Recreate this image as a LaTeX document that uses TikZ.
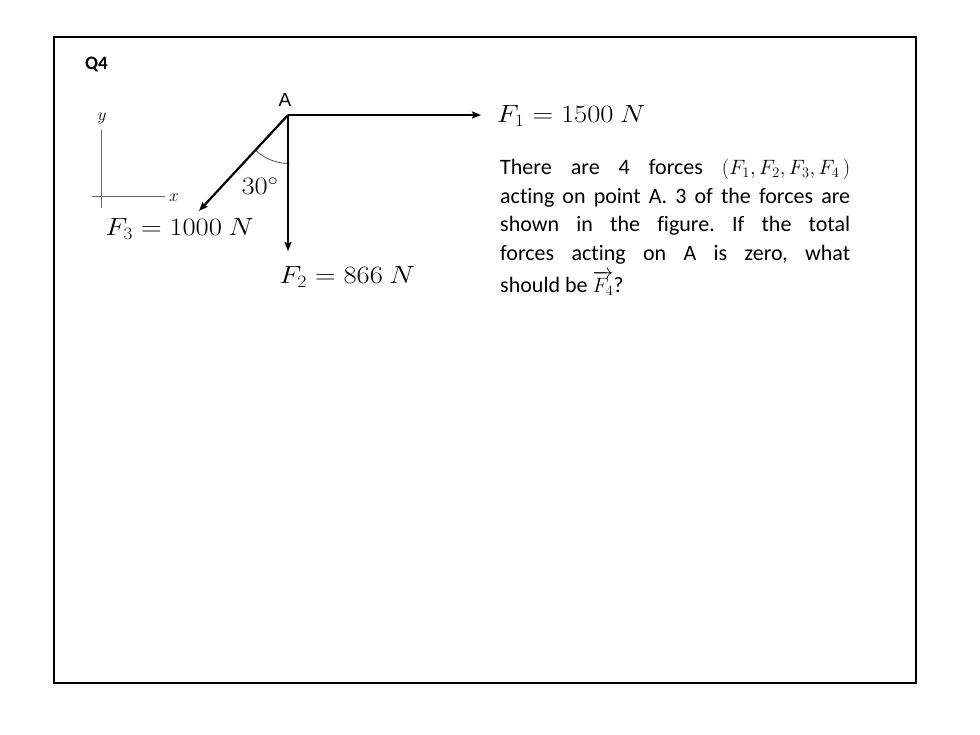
\documentclass[tikz,border=0pt]{standalone}
\usepackage{fontspec}
\usepackage{amsmath}
\usepackage{graphicx}
\setmainfont{Carlito}[Ligatures=NoCommon]
\newfontfamily\arialfont{Liberation Sans}
\usetikzlibrary{arrows.meta}
\newcommand{\mlab}[1]{\scalebox{1.15}[1.0]{$#1$}}
\frenchspacing
\begin{document}
\begin{tikzpicture}[x=1pt,y=1pt,
  force/.style={line width=2.2pt,-{Stealth[length=9pt,width=7pt,inset=1.5pt]}},
  axisline/.style={line width=0.8pt,draw=black!60},
  lab/.style={inner sep=0pt},
  biglab/.style={inner sep=0pt,font=\fontsize{24}{28}\selectfont}]
\useasboundingbox (0,0) rectangle (980,735);
\fill[white] (0,0) rectangle (980,735);
\draw[line width=2pt] (54,698) rectangle (916,52);
\node[lab,font=\bfseries\fontsize{19}{22}\selectfont] (q) at (96.5,671) {Q4};
% axes
\coordinate (yt) at (101,605);
\coordinate (yb) at (101,527);
\coordinate (xl) at (92,539);
\coordinate (xr) at (165,539);
\draw[axisline] (yt) -- (yb);
\draw[axisline] (xl) -- (xr);
\node[lab,font=\fontsize{18}{22}\selectfont] (ylab) at (102,617) {$y$};
\node[lab,font=\fontsize{18}{22}\selectfont] (xlab) at (174,537) {$x$};
% point and forces
\coordinate (A) at (288,620);
\coordinate (t1) at (481,620);
\coordinate (t2) at (288,484);
\coordinate (t3) at (199,524);
\draw[line width=0.8pt,draw=black!70] (A) ++(227:48) arc[start angle=227,end angle=270,radius=50];
\draw[force] (A) -- (t1);
\draw[force] (A) -- (t2);
\draw[force] (A) -- (t3);
\node[lab,font=\arialfont\fontsize{19}{22}\selectfont] (alab) at (285,635) {A};
\node[biglab] (ang) at (260,549) {\mlab{30^{\circ}}};
\node[biglab] (f1) at (571,619) {\mlab{F_1 = 1500\ N}};
\node[biglab] (f2) at (347,458) {\mlab{F_2 = 866\ N}};
\node[biglab] (f3) at (179.5,506) {\mlab{F_3 = 1000\ N}};
% paragraph
\node[inner sep=0pt,anchor=north west,text width=350pt,align=justify,font=\fontsize{22}{28.5}\selectfont] (txt) at (500,576)
{There are 4 forces $(F_1, F_2, F_3, F_4\,)$\linebreak
acting on point A. 3 of the forces are\linebreak
shown in the figure. If the total\linebreak
forces acting on A is zero, what\linebreak
\rule{0pt}{27.5pt}should be $\overrightarrow{F_4}$?};
\end{tikzpicture}
\end{document}
